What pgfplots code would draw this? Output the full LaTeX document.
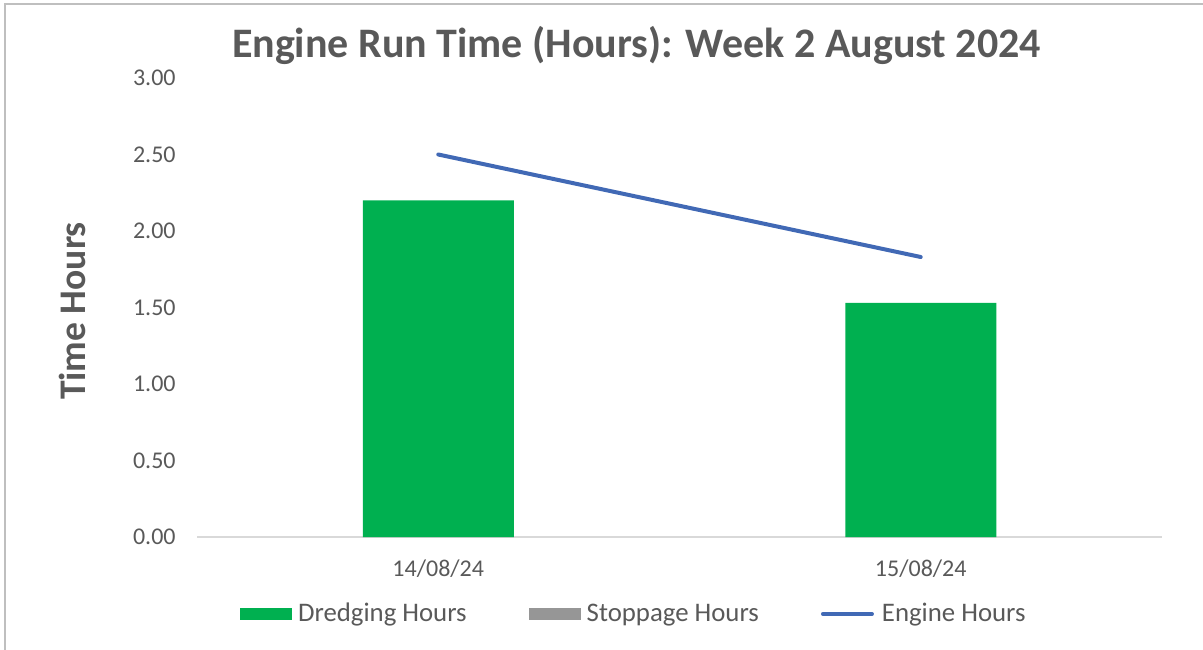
\documentclass[border=0pt]{standalone}
\usepackage{pgfplots}
\pgfplotsset{compat=1.18}
\usepackage{fontspec}
\setmainfont{Carlito}
\definecolor{txtgray}{HTML}{595959}
\definecolor{barGreen}{HTML}{00B050}
\definecolor{stopGray}{HTML}{969696}
\definecolor{lineBlue}{HTML}{4169B5}
\definecolor{axGray}{HTML}{D9D9D9}
\definecolor{frameGray}{HTML}{BFBFBF}
\begin{document}
\begin{tikzpicture}
\useasboundingbox (-98.5bp,-56.5bp) rectangle (503bp,268.5bp);
\draw[frameGray, line width=0.8bp] (-96bp,-60bp) -- (-96bp,266.5bp) -- (510bp,266.5bp);
\begin{axis}[
  at={(0,0)}, anchor=south west,
  scale only axis,
  width=482.5bp, height=229.5bp,
  xmin=-0.5, xmax=1.5,
  ymin=0, ymax=3,
  xtick={0,1},
  xticklabels={14/08/24,15/08/24},
  ytick={0,0.5,1,1.5,2,2.5,3},
  yticklabel style={/pgf/number format/.cd, fixed, fixed zerofill, precision=2, /tikz/.cd},
  /pgf/number format/assume math mode=true,
  ticklabel style={font=\fontsize{12bp}{14bp}\selectfont, text=txtgray},
  yticklabel style={anchor=east, inner sep=0pt, xshift=-10.5bp},
  xticklabel style={anchor=north, inner sep=0pt, yshift=-11bp},
  major tick length=0pt,
  separate axis lines,
  axis x line*=bottom,
  axis y line*=left,
  x axis line style={draw=axGray, line width=1bp, -},
  y axis line style={draw=none},
  legend columns=3,
  legend style={draw=none, fill=none, at={(0.0446,-0.1677)}, anchor=west,
    inner sep=0pt, outer sep=0pt,
    font=\fontsize{13.4bp}{15bp}\selectfont, text=txtgray,
    nodes={inner sep=0pt, outer sep=0pt},
    /tikz/every even column/.append style={column sep=31bp},
  },
  legend cell align=left,
  clip=false,
]
\addplot[ybar, bar width=75.5bp, bar shift=0pt, fill=barGreen, draw=none,
  legend image code/.code={\fill[barGreen] (0bp,-3bp) rectangle (26bp,3bp); \path (29bp,0bp);}]
  coordinates {(0,2.20) (1,1.53)};
\addlegendentry{Dredging Hours}
\addplot[ybar, bar width=75.5bp, bar shift=0pt, fill=stopGray, draw=none,
  legend image code/.code={\fill[stopGray] (0bp,-3bp) rectangle (26bp,3bp); \path (29bp,0bp);}]
  coordinates {(0,0) (1,0)};
\addlegendentry{Stoppage Hours}
\addplot[lineBlue, line width=2bp, line cap=round, mark=none,
  legend image code/.code={\draw[lineBlue, line width=2bp, line cap=round] (1bp,0bp) -- (25.5bp,0bp); \path (29.5bp,0bp);}]
  coordinates {(0,2.50) (1,1.83)};
\addlegendentry{Engine Hours}
\end{axis}
\node[anchor=base, text=txtgray, font=\fontsize{21bp}{24bp}\selectfont\bfseries] at (219.75bp,239.5bp) {Engine Run Time (Hours): Week 2 August 2024};
\node[rotate=90, text=txtgray, font=\fontsize{18.8bp}{22bp}\selectfont\bfseries] at (-62.5bp,113bp) {Time Hours};
\end{tikzpicture}
\end{document}
